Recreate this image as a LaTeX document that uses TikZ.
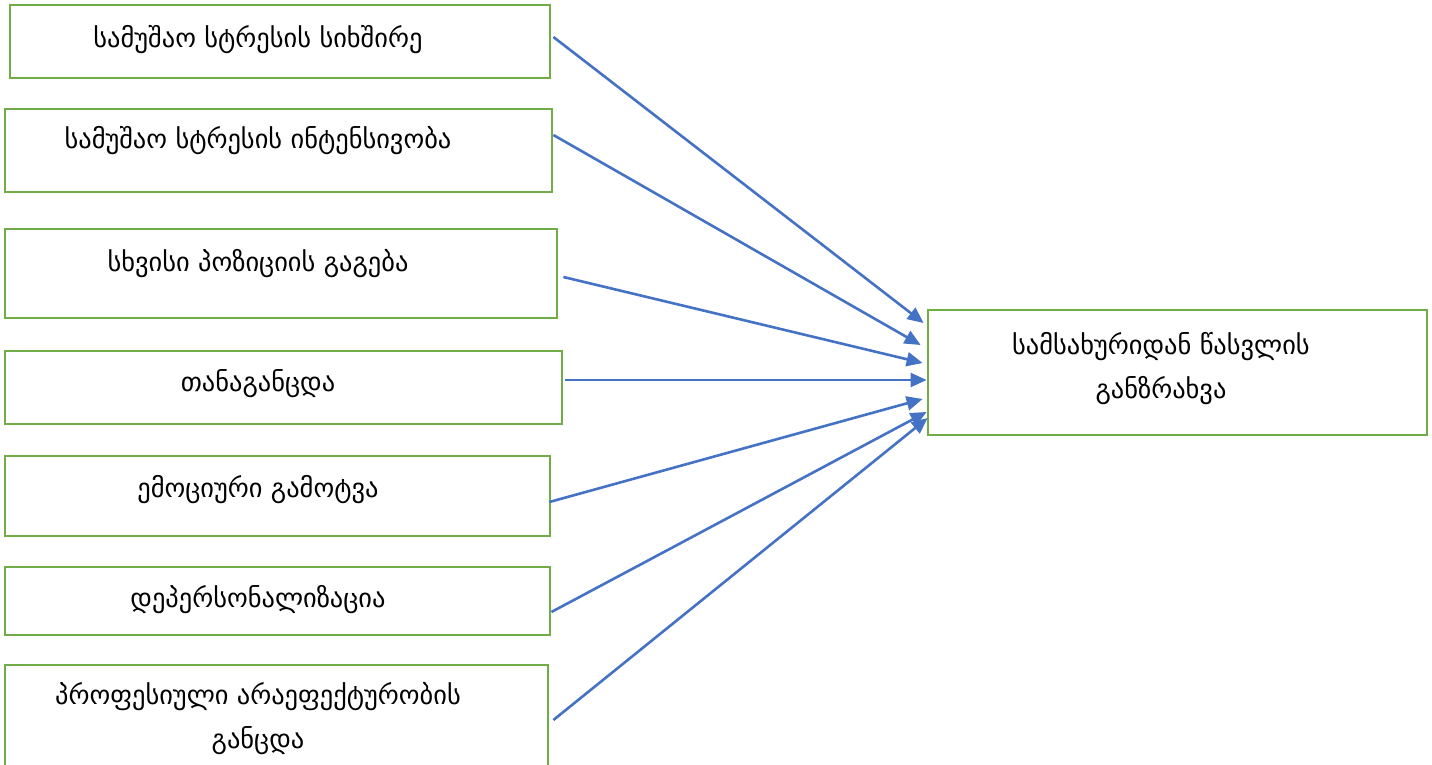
\documentclass[tikz,border=0pt]{standalone}
\usepackage{fontspec}
\setmainfont{DejaVu Sans}
\usetikzlibrary{calc,arrows.meta}
\definecolor{boxgreen}{HTML}{70AD47}
\definecolor{arrowblue}{HTML}{4472C4}
\begin{document}
\begin{tikzpicture}[x=1pt,y=-1pt,
  box/.style={draw=boxgreen,line width=2.8pt,inner sep=0pt,fill=white},
  txt/.style={font=\fontsize{26.4}{44}\selectfont,align=center,inner sep=0pt,anchor=center},
  conn/.style={draw=arrowblue,line width=2.6pt,-{Triangle[length=16pt,width=14pt]}}]
\useasboundingbox (0,0) rectangle (1432,765);
% boxes
\node[box,minimum width=540pt,minimum height=73pt] (b1) at (280,41.5) {};
\node[box,minimum width=547pt,minimum height=83pt] (b2) at (278.5,150.5) {};
\node[box,minimum width=552pt,minimum height=89pt] (b3) at (281,273.5) {};
\node[box,minimum width=557pt,minimum height=73pt] (b4) at (283.5,387.5) {};
\node[box,minimum width=545pt,minimum height=80pt] (b5) at (277.5,496) {};
\node[box,minimum width=545pt,minimum height=68pt] (b6) at (277.5,601) {};
\node[box,minimum width=543pt,minimum height=110pt] (b7) at (276.5,720) {};
\node[box,minimum width=499pt,minimum height=125pt] (r) at (1177.5,372.5) {};
% texts
\node[txt] (t1) at (258,40) {სამუშაო სტრესის სიხშირე};
\node[txt] (t2) at (258,141) {სამუშაო სტრესის ინტენსივობა};
\node[txt] (t3) at (258,264) {სხვისი პოზიციის გაგება};
\node[txt] (t4) at (258,384) {თანაგანცდა};
\node[txt] (t5) at (258,490) {ემოციური გამოტვა};
\node[txt] (t6) at (258,600) {დეპერსონალიზაცია};
\node[txt] (t7) at (258,719) {პროფესიული არაეფექტურობის\\განცდა};
\node[txt] (tr) at (1161,369) {სამსახურიდან წასვლის\\განზრახვა};
% connectors
\draw[conn] ($(b1.east)+(2,-4.5)$) -- ($(r.west)+(-3,-49.5)$);
\draw[conn] ($(b2.east)+(0,-15.5)$) -- ($(r.west)+(-6,-27.5)$);
\draw[conn] ($(b3.east)+(5,3.5)$) -- ($(r.west)+(-4,-9.5)$);
\draw[conn] ($(b4.east)+(2,-7.5)$) -- ($(r.west)+(0,7.5)$);
\draw[conn] ($(b5.east)+(-2,6)$) -- ($(r.west)+(-4,26.5)$);
\draw[conn] ($(b6.east)+(0,11)$) -- ($(r.west)+(0,39.5)$);
\draw[conn] ($(b7.east)+(4,0)$) -- ($(r.west)+(1,45.5)$);
\end{tikzpicture}
\end{document}
